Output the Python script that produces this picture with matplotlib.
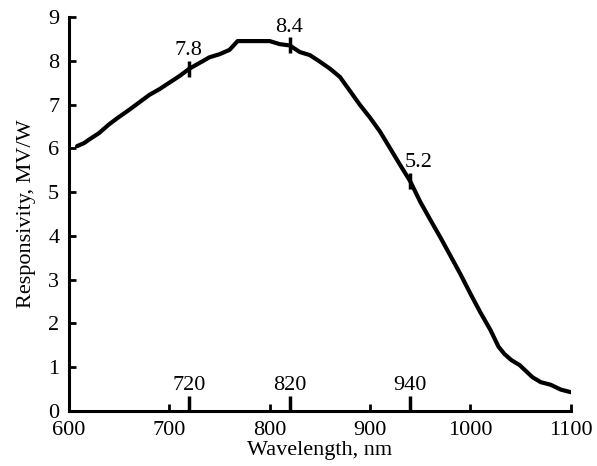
import matplotlib
matplotlib.use("Agg")
import matplotlib.pyplot as plt
import numpy as np
from matplotlib.transforms import blended_transform_factory

wavelength = [608, 615, 620, 630, 640, 650, 660, 670, 680, 690, 700, 710, 720, 730,
              740, 750, 760, 768, 780, 790, 800, 810, 820, 830, 840, 850, 860, 870,
              880, 890, 900, 910, 920, 930, 940, 950, 960, 970, 980, 990, 1000, 1010,
              1020, 1028, 1034, 1041, 1049, 1055, 1062, 1070, 1080, 1090, 1100]
responsivity = [6.05, 6.12, 6.2, 6.35, 6.55, 6.72, 6.88, 7.05, 7.22, 7.35, 7.5, 7.65, 7.82, 7.95,
                8.08, 8.15, 8.25, 8.45, 8.45, 8.45, 8.45, 8.38, 8.35, 8.2, 8.13, 7.98, 7.82, 7.63,
                7.31, 6.99, 6.7, 6.38, 6.0, 5.62, 5.25, 4.78, 4.37, 3.97, 3.55, 3.13, 2.68, 2.25,
                1.85, 1.47, 1.3, 1.16, 1.05, 0.92, 0.77, 0.66, 0.6, 0.49, 0.43]

mark_wl = [720, 820, 940]
mark_labels = ["7.8", "8.4", "5.2"]
axis_mark_labels = ["720", "820", "940"]

plt.rcParams['font.family'] = ['Liberation Serif', 'DejaVu Serif']
plt.rcParams['font.size'] = 16

fig = plt.figure(figsize=(5.97, 4.66), dpi=100)
ax = fig.add_axes([0.1156, 0.118, 0.8404, 0.8455])

ax.plot(wavelength, responsivity, color='black', lw=3.0, solid_capstyle='round', solid_joinstyle='round')

mark_vals = np.interp(mark_wl, wavelength, responsivity)
ax.plot(mark_wl, mark_vals, ls='none', marker='|', markersize=12, markeredgewidth=2.5, color='black')
label_ha = ['center', 'center', 'left']
label_dx = [-1, -1, -5]
for x, v, lab, ha, dx in zip(mark_wl, mark_vals, mark_labels, label_ha, label_dx):
    ax.text(x + dx, v + 0.2, lab, ha=ha, va='bottom')

ax.set_xlim(600, 1100)
ax.set_ylim(0, 9)
ax.set_xticks([600, 700, 800, 900, 1000, 1100])
ax.set_yticks(range(0, 10))
ax.set_xticks(mark_wl, minor=True)

for s in ['top', 'right']:
    ax.spines[s].set_visible(False)
for s in ['left', 'bottom']:
    ax.spines[s].set_linewidth(2.2)

ax.tick_params(which='major', direction='in', length=5, width=2)
ax.tick_params(axis='x', which='major', pad=7)
ax.tick_params(axis='y', which='major', pad=7)
ax.tick_params(axis='x', which='minor', direction='in', length=11, width=2.5, labelbottom=False)

trans = blended_transform_factory(ax.transData, ax.transAxes)
for x, lab in zip(mark_wl, axis_mark_labels):
    ax.text(x, 0.04, lab, transform=trans, ha='center', va='bottom')

ax.set_xlabel("Wavelength, nm", labelpad=1)
ax.set_ylabel("Responsivity, MV/W", labelpad=9)

fig.savefig("out.png", dpi=100)
